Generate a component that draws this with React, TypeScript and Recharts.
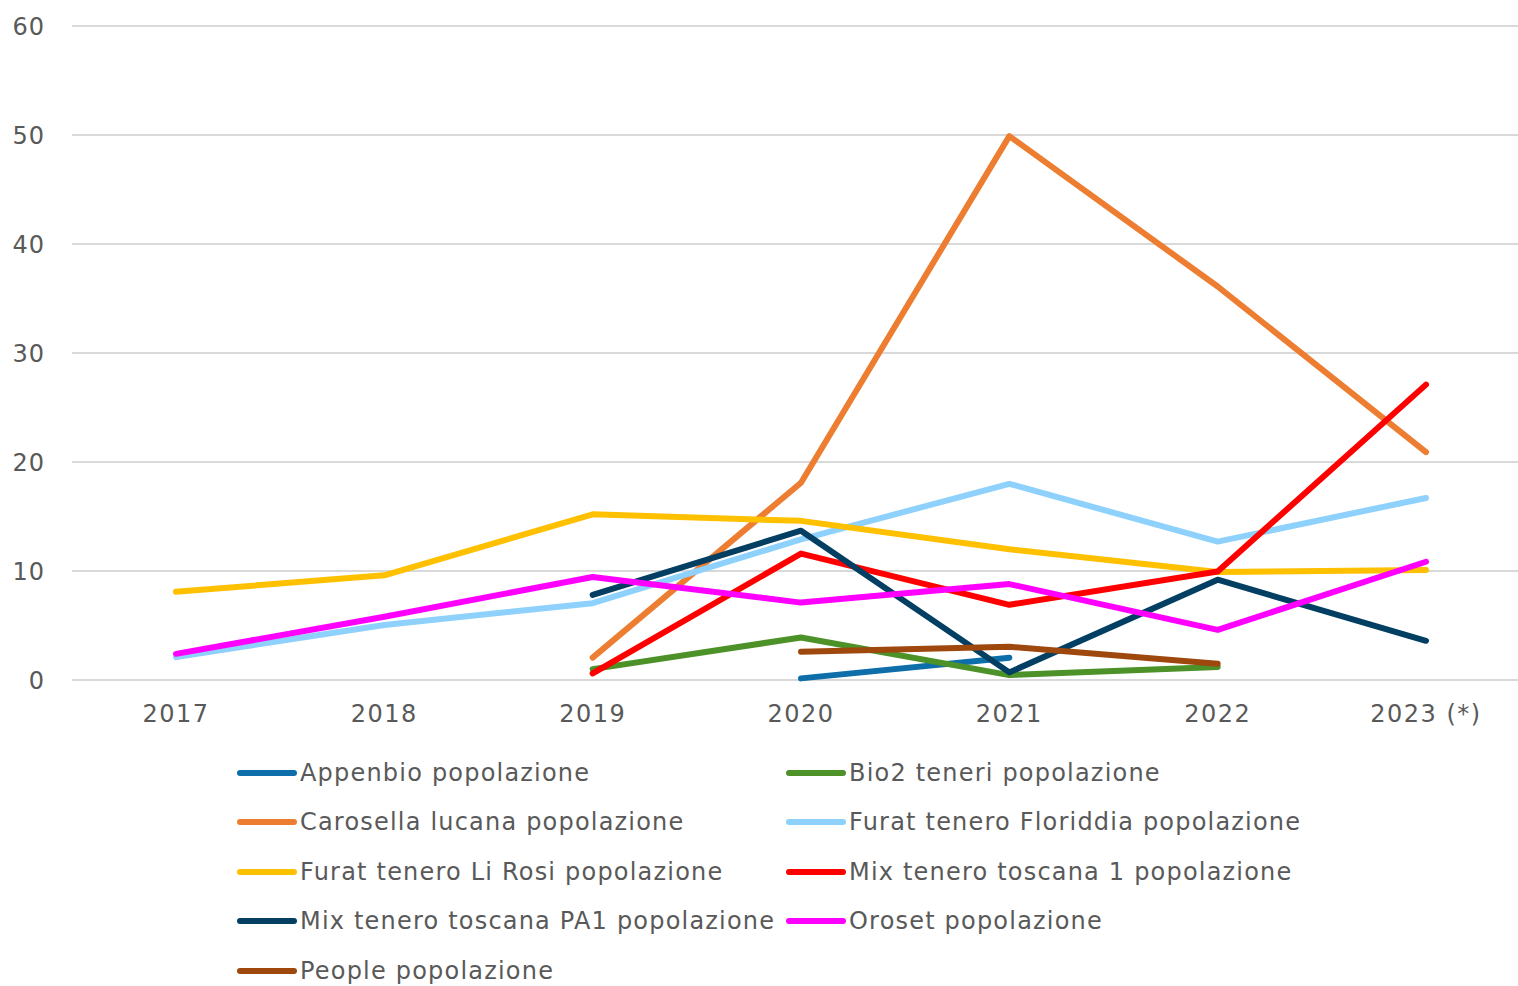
import React from "react";
import { LineChart, Line, XAxis, YAxis, CartesianGrid } from "recharts";

const years = ["2017", "2018", "2019", "2020", "2021", "2022", "2023 (*)"];

const appenbio = [null, null, null, 0.15, 2.05, null, null];
const bio2 = [null, null, 1.0, 3.9, 0.45, 1.2, null];
const carosella = [null, null, 2.05, 18.1, 49.9, 36.1, 20.9];
const floriddia = [2.1, 5.05, 7.05, 12.9, 18.0, 12.7, 16.7];
const liRosi = [8.1, 9.6, 15.2, 14.6, 12.0, 9.9, 10.1];
const mix1 = [null, null, 0.6, 11.6, 6.9, 9.95, 27.1];
const pa1 = [null, null, 7.8, 13.7, 0.7, 9.2, 3.6];
const oroset = [2.4, 5.8, 9.45, 7.1, 8.8, 4.6, 10.85];
const people = [null, null, null, 2.6, 3.05, 1.5, null];

const yTicks = [0, 10, 20, 30, 40, 50, 60];

const series = [
  { key: "appenbio", name: "Appenbio popolazione", values: appenbio, color: "#0E6EAA" },
  { key: "bio2", name: "Bio2 teneri popolazione", values: bio2, color: "#4D9129" },
  { key: "carosella", name: "Carosella lucana popolazione", values: carosella, color: "#ED7D31" },
  { key: "floriddia", name: "Furat tenero Floriddia popolazione", values: floriddia, color: "#8ED1FC" },
  { key: "liRosi", name: "Furat tenero Li Rosi popolazione", values: liRosi, color: "#FFC000" },
  { key: "mix1", name: "Mix tenero toscana 1 popolazione", values: mix1, color: "#FF0000" },
  { key: "pa1", name: "Mix tenero toscana PA1 popolazione", values: pa1, color: "#023F62" },
  { key: "oroset", name: "Oroset popolazione", values: oroset, color: "#FF00FF" },
  { key: "people", name: "People popolazione", values: people, color: "#9E480E" },
];

const data = years.map((y, i) => {
  const row: Record<string, any> = { year: y };
  series.forEach((s) => {
    row[s.key] = s.values[i];
  });
  return row;
});

const FONT = "'DejaVu Sans', Verdana, sans-serif";
const TEXT = "#595959";

const LegendBlock = () => (
  <div
    style={{
      position: "absolute",
      left: 237,
      top: 748,
      display: "grid",
      gridTemplateColumns: "549px 549px",
      gridAutoRows: "49.5px",
      fontFamily: FONT,
      fontSize: 24,
      letterSpacing: 1.2,
      color: TEXT,
    }}
  >
    {series.map((s) => (
      <div key={s.key} style={{ display: "flex", alignItems: "center", whiteSpace: "nowrap" }}>
        <div
          style={{
            width: 60,
            height: 6,
            borderRadius: 3,
            background: s.color,
            marginRight: 3,
            flex: "none",
          }}
        />
        <span>{s.name}</span>
      </div>
    ))}
  </div>
);

export default function App() {
  return (
    <div style={{ position: "absolute", left: 0, top: 0, width: 1518, height: 986, background: "#fff" }}>
      <LineChart
        width={1518}
        height={986}
        data={data}
        margin={{ top: 26, right: 0, bottom: 246, left: 0 }}
      >
        <CartesianGrid vertical={false} stroke="#D9D9D9" strokeWidth={2} />
        <XAxis
          dataKey="year"
          height={60}
          axisLine={false}
          tickLine={false}
          tickSize={0}
          tickMargin={25}
          padding={{ left: 104, right: 92 }}
          interval={0}
          tick={{ fill: TEXT, fontSize: 24, fontFamily: FONT, letterSpacing: 1.5 }}
        />
        <YAxis
          width={72}
          domain={[0, 60]}
          ticks={yTicks}
          axisLine={false}
          tickLine={false}
          tickSize={0}
          tickMargin={27}
          tick={{ fill: TEXT, fontSize: 24, fontFamily: FONT, letterSpacing: 1 }}
        />
        {series.map((s) => (
          <Line
            key={s.key}
            type="linear"
            dataKey={s.key}
            name={s.name}
            stroke={s.color}
            strokeWidth={6}
            strokeLinecap="round"
            strokeLinejoin="round"
            dot={false}
            activeDot={false}
            isAnimationActive={false}
          />
        ))}
      </LineChart>
      <LegendBlock />
    </div>
  );
}
